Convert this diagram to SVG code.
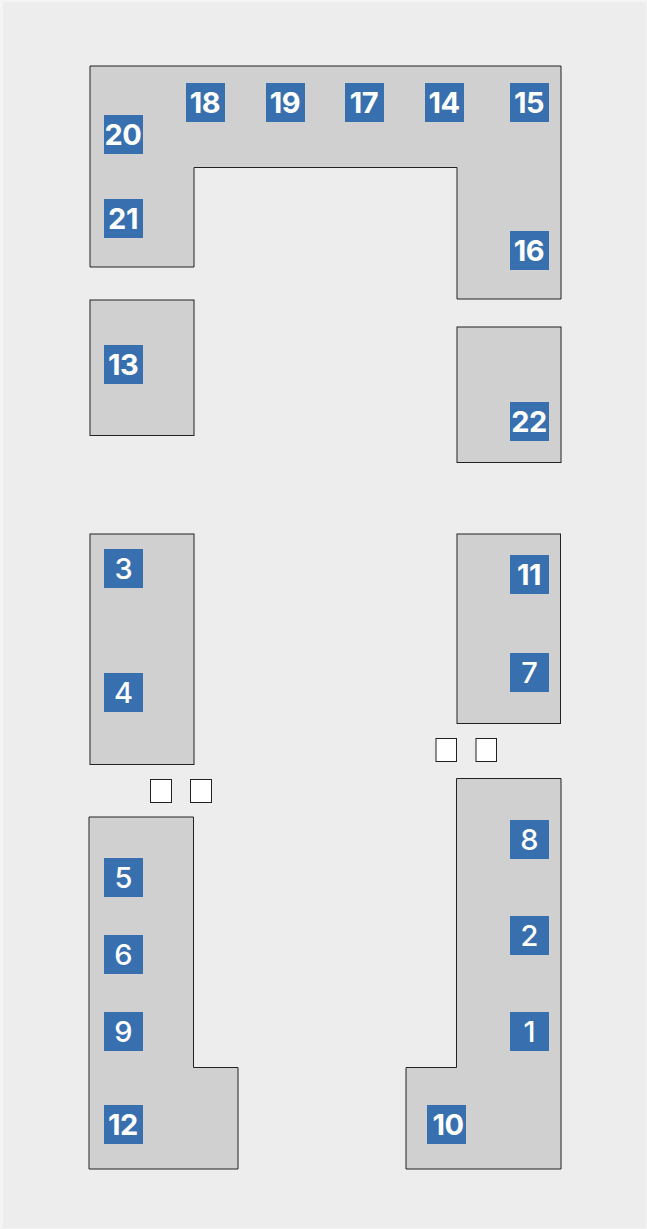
<svg xmlns="http://www.w3.org/2000/svg" width="647" height="1229" viewBox="0 0 647 1229">
<style>
.room{fill:#d0d0d0;stroke:#222;stroke-width:1}
.box{fill:#fff;stroke:#222;stroke-width:1}
.tag{fill:#386fae}
text{font-family:Inter,"Liberation Sans",sans-serif;font-size:29px;fill:#fff;text-anchor:middle}
.d1{font-weight:500}
.d2{font-weight:700;letter-spacing:-0.5px}
</style>
<rect x="0" y="0" width="647" height="1229" fill="#f4f4f4"/>
<rect x="3" y="2" width="643" height="1226" fill="#ededed"/>
<g id="rooms">
<path id="room-top" class="room" d="M90 66H561V299H457V167.500H194V267H90Z"/>
<rect id="room-13" class="room" x="90" y="300" width="104" height="135.500"/>
<rect id="room-22" class="room" x="457" y="327" width="104" height="135.500"/>
<rect id="room-3-4" class="room" x="90" y="534" width="104" height="230.500"/>
<rect id="room-11-7" class="room" x="457" y="534" width="103.500" height="189.500"/>
<path id="room-left" class="room" d="M89 817H193.500V1067.500H238V1169H89Z"/>
<path id="room-right" class="room" d="M456.500 778.500H561V1169H406V1067.500H456.500Z"/>
</g>
<g id="boxes">
<rect class="box" x="150.500" y="779.500" width="21" height="23"/>
<rect class="box" x="190.500" y="779.500" width="21" height="23"/>
<rect class="box" x="436" y="738.500" width="20.500" height="23"/>
<rect class="box" x="476" y="738.500" width="20.500" height="23"/>
</g>
<g id="n18"><rect class="tag" x="186" y="83" width="39" height="39"/><text class="d2" x="205" y="113">18</text></g>
<g id="n19"><rect class="tag" x="266" y="83" width="39" height="39"/><text class="d2" x="285" y="113">19</text></g>
<g id="n17"><rect class="tag" x="345" y="83" width="39" height="39"/><text class="d2" x="364" y="113">17</text></g>
<g id="n14"><rect class="tag" x="425" y="83" width="39" height="39"/><text class="d2" x="444" y="113">14</text></g>
<g id="n15"><rect class="tag" x="510" y="83" width="39" height="39"/><text class="d2" x="529" y="113">15</text></g>
<g id="n20"><rect class="tag" x="104" y="115" width="39" height="39"/><text class="d2" x="123" y="145">20</text></g>
<g id="n21"><rect class="tag" x="104" y="199" width="39" height="39"/><text class="d2" x="123" y="229">21</text></g>
<g id="n16"><rect class="tag" x="510" y="231" width="39" height="39"/><text class="d2" x="529" y="261">16</text></g>
<g id="n13"><rect class="tag" x="104" y="345" width="39" height="39"/><text class="d2" x="123" y="375">13</text></g>
<g id="n22"><rect class="tag" x="510" y="402" width="39" height="39"/><text class="d2" x="529" y="432">22</text></g>
<g id="n3"><rect class="tag" x="104" y="549" width="39" height="39"/><text class="d1" x="123.500" y="579">3</text></g>
<g id="n11"><rect class="tag" x="510" y="555" width="39" height="39"/><text class="d2" x="529" y="585">11</text></g>
<g id="n7"><rect class="tag" x="510" y="653" width="39" height="39"/><text class="d1" x="529.500" y="683">7</text></g>
<g id="n4"><rect class="tag" x="104" y="673" width="39" height="39"/><text class="d1" x="123.500" y="703">4</text></g>
<g id="n8"><rect class="tag" x="510" y="820" width="39" height="39"/><text class="d1" x="529.500" y="850">8</text></g>
<g id="n5"><rect class="tag" x="104" y="858" width="39" height="39"/><text class="d1" x="123.500" y="888">5</text></g>
<g id="n2"><rect class="tag" x="510" y="916" width="39" height="39"/><text class="d1" x="529.500" y="946">2</text></g>
<g id="n6"><rect class="tag" x="104" y="935" width="39" height="39"/><text class="d1" x="123.500" y="965">6</text></g>
<g id="n9"><rect class="tag" x="104" y="1012" width="39" height="39"/><text class="d1" x="123.500" y="1042">9</text></g>
<g id="n1"><rect class="tag" x="510" y="1012" width="39" height="39"/><text class="d1" x="529.500" y="1042">1</text></g>
<g id="n12"><rect class="tag" x="104" y="1105" width="39" height="39"/><text class="d2" x="123" y="1135">12</text></g>
<g id="n10"><rect class="tag" x="427" y="1105" width="39" height="39"/><text class="d2" x="448" y="1135">10</text></g>
</svg>
